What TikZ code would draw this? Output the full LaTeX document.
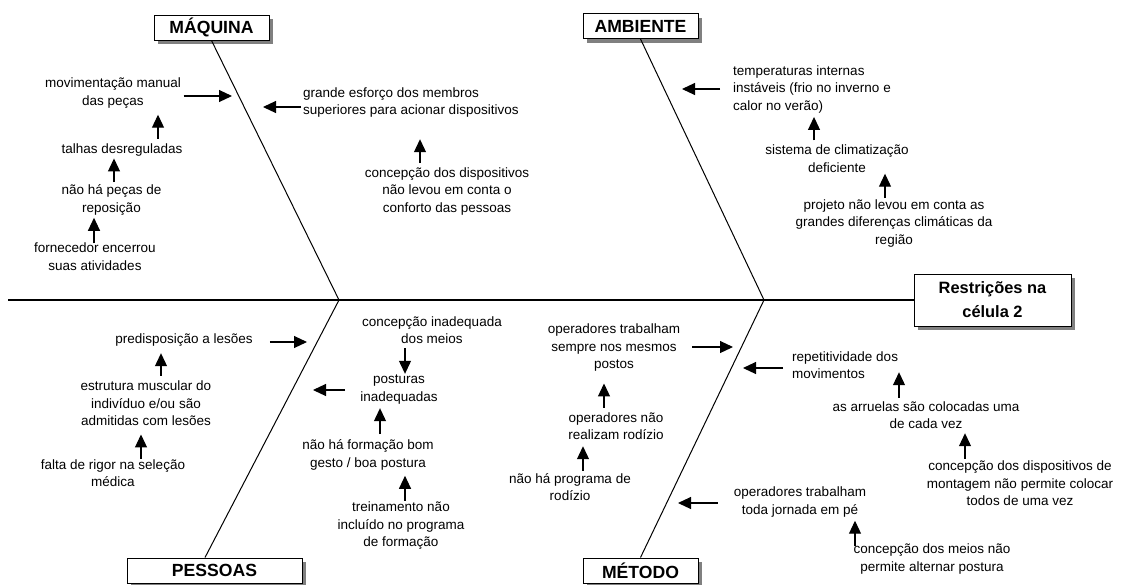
\documentclass[tikz,border=0pt]{standalone}
\usepackage{fontspec}
\setmainfont{Liberation Sans}
\usetikzlibrary{arrows.meta,shadows}
\begin{document}
\begin{tikzpicture}[x=1pt,y=-1pt,
  cause/.style={font=\fontsize{13.5}{17.5}\selectfont, align=center, inner sep=0pt,
    execute at begin node=\strut, execute at end node=\strut},
  causel/.style={cause, align=left, anchor=west},
  catbox/.style={draw, line width=1pt, fill=white, inner sep=0pt,
    minimum width=115pt, minimum height=25pt,
    font=\fontsize{17.6}{20}\selectfont\bfseries,
    general shadow={fill=black!50, shadow xshift=4pt, shadow yshift=-4pt}},
  bone/.style={line width=1pt},
  spine/.style={line width=1.2pt},
  arr/.style={line width=1.1pt, -{Triangle[length=13pt,width=12pt]}},
]
\path[use as bounding box, fill=white] (0,0) rectangle (1123,584);
\clip (0,0) rectangle (1123,584);

% category boxes and effect
\node[catbox] (mq) at (211.5,27.5) {MÁQUINA};
\node[catbox] (am) at (640.5,26) {AMBIENTE};
\node[catbox, minimum width=175pt] (ps) at (214.5,570.5) {PESSOAS};
\node[catbox] (mt) at (640.5,570.5) {MÉTODO};
\node[catbox, minimum width=157pt, minimum height=52pt, align=center,
  font=\fontsize{16.4}{24}\selectfont\bfseries] (ef) at (992.5,300) {Restrições na\\célula 2};

% spine and bones
\coordinate (tail) at (8,300);
\coordinate (j1) at (339,300);
\coordinate (j2) at (764,300);
\draw[spine] (tail) -- (ef.west);
\draw[bone] (mq.south) -- (j1) -- (205,0 |- ps.north);
\draw[bone] (am.south) -- (j2) -- (mt.north);

% causes: machine
\node[cause] (m1) at (113,94) {movimentação manual\\das peças};
\node[cause] (m2) at (122,149.5) {talhas desreguladas};
\node[cause] (m3) at (111.5,201) {não há peças de\\reposição};
\node[cause] (m4) at (95,259) {fornecedor encerrou\\suas atividades};
\node[causel] (m5) at (303,103.5) {grande esforço dos membros\\superiores para acionar dispositivos};
\node[cause] (m6) at (447,192.5) {concepção dos dispositivos\\não levou em conta o\\conforto das pessoas};

% causes: environment
\node[causel] (a1) at (733,90.5) {temperaturas internas\\instáveis (frio no inverno e\\calor no verão)};
\node[cause] (a2) at (837,161) {sistema de climatização\\deficiente};
\node[cause] (a3) at (894,224.5) {projeto não levou em conta as\\grandes diferenças climáticas da\\região};

% causes: people
\node[cause] (p1) at (184,340) {predisposição a lesões};
\node[cause] (p2) at (146,406) {estrutura muscular do\\indivíduo e/ou são\\admitidas com lesões};
\node[cause] (p3) at (113,475.5) {falta de rigor na seleção\\médica};
\node[cause] (p4) at (432,332.5) {concepção inadequada\\dos meios};
\node[cause] (p5) at (399,391) {posturas\\inadequadas};
\node[cause] (p6) at (368,456) {não há formação bom\\gesto / boa postura};
\node[cause] (p7) at (401,527) {treinamento não\\incluído no programa\\de formação};

% causes: method
\node[cause] (t1) at (614,349) {operadores trabalham\\sempre nos mesmos\\postos};
\node[cause] (t2) at (616,428.5) {operadores não\\realizam rodízio};
\node[cause] (t3) at (570,489.5) {não há programa de\\rodízio};
\node[causel] (t4) at (792,367.5) {repetitividade dos\\movimentos};
\node[cause] (t5) at (926,417.5) {as arruelas são colocadas uma\\de cada vez};
\node[cause] (t6) at (1020,486) {concepção dos dispositivos de\\montagem não permite colocar\\todos de uma vez};
\node[cause] (t7) at (800,503) {operadores trabalham\\toda jornada em pé};
\node[cause] (t8) at (932,560) {concepção dos meios não\\permite alternar postura};

% arrow targets beside the bones
\coordinate (mq1) at (232,96);
\coordinate (mq2) at (263,107);
\coordinate (am1) at (682,89);
\coordinate (ps1) at (307,342);
\coordinate (ps2) at (313,390);
\coordinate (mt1) at (733,347);
\coordinate (mt2) at (743,368);
\coordinate (mt3) at (678,503);

% arrows into the bones
\draw[arr, shorten <=2.5pt] (m1.east |- mq1) -- (mq1);
\draw[arr, shorten <=2pt] (m5.west |- mq2) -- (mq2);
\draw[arr, shorten <=13pt] (a1.west |- am1) -- (am1);
\draw[arr, shorten <=17pt] (p1.east |- ps1) -- (ps1);
\draw[arr, shorten <=15pt] (p5.west |- ps2) -- (ps2);
\draw[arr, shorten <=12pt] (t1.east |- mt1) -- (mt1);
\draw[arr, shorten <=9pt] (t4.west |- mt2) -- (mt2);
\draw[arr, shorten <=16pt] (t7.west |- mt3) -- (mt3);

% arrows between causes
\draw[arr, shorten <=1.75pt, shorten >=4.25pt] (158,0 |- m2.north) -- (158,0 |- m1.south);
\draw[arr, shorten <=2.25pt, shorten >=0pt] (114,0 |- m3.north) -- (114,0 |- m2.south);
\draw[arr, shorten <=-0.75pt, shorten >=0.25pt] (94,0 |- m4.north) -- (94,0 |- m3.south);
\draw[arr, shorten <=4.25pt, shorten >=19.25pt] (420,0 |- m6.north) -- (420,0 |- m5.south);
\draw[arr, shorten <=4.25pt, shorten >=1.25pt] (814,0 |- a2.north) -- (814,0 |- a1.south);
\draw[arr, shorten <=1.25pt, shorten >=-3.75pt] (885,0 |- a3.north) -- (885,0 |- a2.south);
\draw[arr, shorten <=5.25pt, shorten >=4.25pt] (161,0 |- p2.north) -- (161,0 |- p1.south);
\draw[arr, shorten <=0.25pt, shorten >=3.25pt] (141,0 |- p3.north) -- (141,0 |- p2.south);
\draw[arr, shorten <=-0.75pt, shorten >=1.25pt] (405,0 |- p4.south) -- (405,0 |- p5.north);
\draw[arr, shorten <=5.25pt, shorten >=1.25pt] (380,0 |- p6.north) -- (380,0 |- p5.south);
\draw[arr, shorten <=1.25pt, shorten >=3.25pt] (405,0 |- p7.north) -- (405,0 |- p6.south);
\draw[arr, shorten <=4.25pt, shorten >=9.25pt] (604,0 |- t2.north) -- (604,0 |- t1.south);
\draw[arr, shorten <=2.25pt, shorten >=1.25pt] (583,0 |- t3.north) -- (583,0 |- t2.south);
\draw[arr, shorten <=3.25pt, shorten >=-11.75pt] (899,0 |- t5.north) -- (899,0 |- t4.south);
\draw[arr, shorten <=2.25pt, shorten >=-0.75pt] (965,0 |- t6.north) -- (965,0 |- t5.south);
\draw[arr, shorten <=-2.75pt, shorten >=1.25pt] (855,0 |- t8.north) -- (855,0 |- t7.south);
\end{tikzpicture}
\end{document}
